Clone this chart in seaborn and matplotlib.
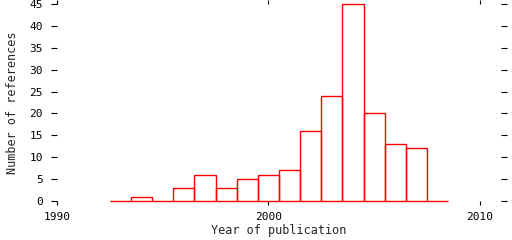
import matplotlib
matplotlib.use("Agg")
import matplotlib.pyplot as plt
import seaborn as sns
import pandas as pd

years = [1993, 1994, 1995, 1996, 1997, 1998, 1999, 2000, 2001, 2002, 2003, 2004, 2005, 2006, 2007, 2008]
counts = [0, 1, 0, 3, 6, 3, 5, 6, 7, 16, 24, 45, 20, 13, 12, 0]
xticks = [1990, 2000, 2010]
yticks = [0, 5, 10, 15, 20, 25, 30, 35, 40, 45]

sns.set_style("ticks")
plt.rcParams['font.family'] = ['DejaVu Sans Mono']
plt.rcParams['font.size'] = 8

df = pd.DataFrame({"year": years, "count": counts})

fig = plt.figure(figsize=(5.12, 2.4), dpi=100)
ax = fig.add_axes([57/512, 39/240, (501-57)/512, (201-4)/240])
sns.histplot(data=df, x="year", weights="count", discrete=True, fill=False,
             element="bars", color="#ff0000", linewidth=1.0, ax=ax)
for p in ax.patches:
    p.set_edgecolor("#ff0000")
    p.set_clip_on(False)

ax.set_xlim(1990, 2011)
ax.set_ylim(0, 45)
ax.set_xticks(xticks)
ax.set_yticks(yticks)
sns.despine(ax=ax, left=True, bottom=True, right=True, top=True)
ax.tick_params(axis="x", which="both", top=True, bottom=True, direction="out",
               length=3, width=0.8, pad=5, colors="black", labelsize=8)
ax.tick_params(axis="y", which="both", left=True, right=True, direction="out",
               length=4, width=0.8, pad=6, colors="black", labelsize=8)
ax.set_xlabel("Year of publication", labelpad=1.5, fontsize=8.5)
ax.set_ylabel("Number of references", labelpad=8, fontsize=8.5)
fig.savefig("out.png", dpi=100)
